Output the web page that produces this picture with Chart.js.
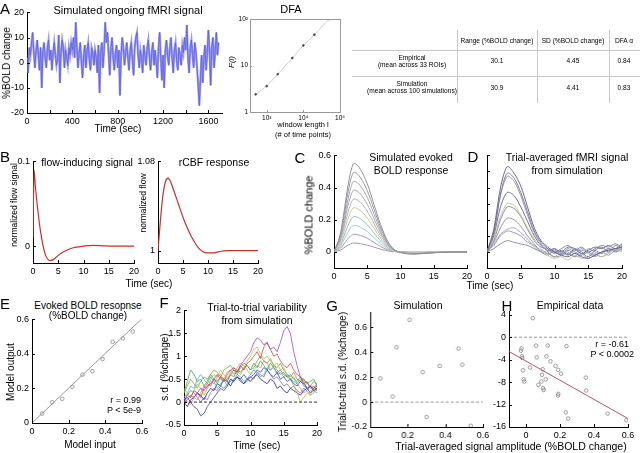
<!DOCTYPE html>
<html>
<head>
<meta charset="utf-8">
<title>Simulated BOLD figure</title>
<style>
body { margin: 0; background: #fff; font-family: 'Liberation Sans', Arial, sans-serif; }
#fig { position: relative; width: 640px; height: 453px; overflow: hidden; background: #fff; }
#fig canvas { position: absolute; }
.t { position: absolute; white-space: nowrap; color: #000; line-height: 1; z-index: 2; }
.ln { position: absolute; background: #c8c8c8; z-index: 1; }
</style>
</head>
<body>
<div id="fig"></div>
<script src="https://cdn.jsdelivr.net/npm/chart.js@4.4.1/dist/chart.umd.min.js"></script>
<script>

// ---- A: simulated ongoing signal, one sample every 10 s ----
const aSignal = [
  2,-4,6,3,8,12,4,-2,5,9,
  3,-3,6,-10,4,8,2,-2,6,9,
  1,5,-3,4,8,3,-1,2,11,-8,
  4,9,6,-2,5,2,-1,6,3,8,
  5,10,2,16,6,-2,4,8,0,-6,
  3,7,-2,5,8,1,-3,6,4,-1,
  5,2,-4,7,-12,4,8,-2,5,16,
  8,12,3,-5,6,10,2,-3,4,7,
  -2,5,-13,3,10,6,-1,4,8,2,
  -3,5,8,1,-5,6,10,12,3,-2,
  5,2,-4,7,3,-1,6,9,2,-3,
  4,8,-1,5,0,-6,6,12,2,-7,
  3,-10,5,9,3,-1,6,10,2,-4,
  5,8,1,-3,6,3,-1,7,4,10,
  5,15,2,-4,6,9,3,-2,8,4,
  -2,-9,-17,-6,3,-8,2,7,-3,4,
  13,5,-9,6,10,-2,4,12,3,8
];
const aTime = aSignal.map((v, i) => i * 10);

// DFA
const dfaWindow = [500, 1000, 2000, 5000, 10000, 20000, 50000];
const dfaF = [2.4, 3.6, 6.5, 14.5, 27, 46, 100];

// table
const tableHeader = ['Range (%BOLD change)', 'SD (%BOLD change)', 'DFA \u03b1'];
const tableRowNames = [['Empirical', '(mean across 33 ROIs)'], ['Simulation', '(mean across 100 simulations)']];
const tableRange = ['30.1', '30.9'];
const tableSD = ['4.45', '4.41'];
const tableDFA = ['0.84', '0.83'];

// ---- B ----
const flowTime = [0, 0.2, 0.5, 1, 1.5, 2, 2.5, 3, 3.5, 4, 5, 6, 7, 8, 9, 10, 11, 12, 14, 16, 18, 20];
const flowSignal = [0.01, 0.09, 0.068, 0.04, 0.017, 0.0, -0.011, -0.016, -0.017, -0.016, -0.011, -0.007, -0.004, -0.002, -0.001, 0.0, 0.0005, 0.0008, 0.0003, 0, 0, 0];
const cbfTime = [0, 0.5, 1, 1.5, 2, 2.5, 3, 4, 5, 6, 7, 8, 9, 10, 11, 12, 14, 16, 18, 20];
const cbfFlow = [1.0, 1.028, 1.05, 1.062, 1.065, 1.062, 1.056, 1.043, 1.03, 1.019, 1.01, 1.003, 0.999, 0.998, 0.998, 0.999, 1.0, 1.0, 1.0, 1.0];

// ---- C: simulated evoked responses ----
const cTime = [0, 1, 1.5, 2, 2.5, 3, 3.5, 4, 5, 6, 7, 8, 9, 10, 12, 14, 16, 18, 20];
const cCurves = [
  [0,0.121,0.248,0.385,0.495,0.55,0.539,0.512,0.424,0.297,0.171,0.072,0.017,-0.003,-0.014,-0.008,-0.003,0,0],
  [0,0.109,0.223,0.347,0.446,0.495,0.485,0.46,0.381,0.267,0.153,0.064,0.015,-0.002,-0.012,-0.007,-0.002,0,0],
  [0,0.097,0.198,0.308,0.396,0.44,0.431,0.409,0.339,0.238,0.136,0.057,0.013,-0.002,-0.011,-0.007,-0.002,0,0],
  [0,0.085,0.173,0.27,0.347,0.385,0.377,0.358,0.296,0.208,0.119,0.05,0.012,-0.002,-0.01,-0.006,-0.002,0,0],
  [0,0.073,0.149,0.231,0.297,0.33,0.323,0.307,0.254,0.178,0.102,0.043,0.01,-0.002,-0.008,-0.005,-0.002,0,0],
  [0,0.061,0.124,0.193,0.248,0.275,0.27,0.256,0.212,0.149,0.085,0.036,0.008,-0.001,-0.007,-0.004,-0.001,0,0],
  [0,0.048,0.099,0.154,0.198,0.22,0.216,0.205,0.169,0.119,0.068,0.029,0.007,-0.001,-0.006,-0.003,-0.001,0,0],
  [0,0.036,0.074,0.116,0.149,0.165,0.162,0.153,0.127,0.089,0.051,0.021,0.005,-0.001,-0.004,-0.002,-0.001,0,0],
  [0,0.024,0.05,0.077,0.099,0.11,0.108,0.102,0.085,0.059,0.034,0.014,0.003,0,-0.003,-0.002,-0.001,0,0],
  [0,0.012,0.025,0.039,0.05,0.055,0.054,0.051,0.042,0.03,0.017,0.007,0.002,0,-0.001,-0.001,0,0,0]
];
const cColors = ['#909090', '#a096ac', '#a4ac9e', '#aca4bc', '#b4b4b4', '#cccc98', '#a0b6cc', '#acc8c8', '#a0a0bc', '#a898a8'];

// ---- D: trial-averaged signal, 1 s grid ----
const dTime = [0,1,2,3,4,5,6,7,8,9,10,11,12,13,14,15,16,17,18,19,20];
const dCurves = [
  [0,0.14,0.40,0.53,0.49,0.41,0.28,0.15,0.07,0.03,0.0,-0.02,-0.03,-0.01,-0.03,-0.04,-0.02,0.0,0.01,0.02,0.03],
  [0,0.12,0.36,0.49,0.46,0.37,0.25,0.13,0.06,0.02,-0.01,0.01,-0.02,0.02,0.0,-0.03,0.01,0.03,0.0,0.04,0.02],
  [0,0.12,0.35,0.47,0.44,0.35,0.23,0.12,0.05,0.0,-0.03,-0.02,0.01,-0.01,0.02,0.0,-0.02,0.0,0.02,0.01,0.04],
  [0,0.10,0.28,0.37,0.35,0.28,0.19,0.10,0.04,0.01,0.02,0.0,0.03,0.02,-0.01,0.01,0.03,0.02,0.04,0.02,0.05],
  [0,0.08,0.22,0.30,0.29,0.23,0.15,0.08,0.02,-0.02,-0.04,-0.03,-0.05,-0.02,-0.04,-0.03,-0.01,-0.03,0.0,0.01,0.0],
  [0,0.07,0.20,0.28,0.27,0.22,0.14,0.07,0.03,0.02,0.0,0.02,0.04,0.01,0.03,0.0,0.02,0.04,0.03,0.05,0.03],
  [0,0.06,0.15,0.21,0.20,0.16,0.10,0.05,0.0,-0.02,0.01,-0.01,0.02,0.0,-0.02,0.02,0.0,-0.01,0.02,0.0,0.02],
  [0,0.05,0.11,0.14,0.15,0.12,0.08,0.03,0.0,-0.01,-0.03,0.0,-0.02,0.01,-0.01,-0.04,-0.02,-0.03,-0.01,0.02,0.01],
  [0,0.04,0.10,0.13,0.12,0.10,0.06,0.04,0.01,0.0,0.02,-0.01,0.0,-0.03,0.01,-0.01,-0.03,0.0,-0.02,0.01,0.03],
  [0,0.02,0.05,0.07,0.06,0.05,0.04,0.02,0.0,-0.01,0.0,-0.02,-0.01,-0.03,-0.02,0.0,0.01,-0.01,0.02,0.0,0.02]
];
const dColors = ['#6a6a90', '#8080a4', '#9494ac', '#70709a', '#c4c48c', '#8a8aac', '#9696b4', '#a8a8c4', '#9c9cbc', '#9090a8'];

// ---- E ----
const eInput = [0.055, 0.11, 0.165, 0.22, 0.275, 0.33, 0.385, 0.44, 0.495, 0.55];
const eOutput = [0.055, 0.12, 0.14, 0.21, 0.28, 0.30, 0.37, 0.47, 0.49, 0.53];
const eFitX = [0, 0.6];
const eFitY = [0, 0.605];

// ---- F: trial-to-trial s.d., 0.5 s grid ----
const fTime = [0,0.5,1,1.5,2,2.5,3,3.5,4,4.5,5,5.5,6,6.5,7,7.5,8,8.5,9,9.5,10,10.5,11,11.5,12,12.5,13,13.5,14,14.5,15,15.5,16,16.5,17,17.5,18,18.5,19,19.5,20];
const fCurves = [
  [0.05,0.1,0.0,-0.1,-0.15,-0.3,-0.25,-0.1,0.0,0.1,0.2,0.3,0.25,0.35,0.5,0.45,0.55,0.5,0.6,0.5,0.55,0.6,0.7,0.65,0.75,0.7,0.6,0.55,0.65,0.5,0.55,0.45,0.5,0.4,0.35,0.45,0.4,0.3,0.35,0.25,0.3],
  [0.2,0.45,0.7,0.6,0.45,0.5,0.35,0.45,0.6,0.5,0.4,0.55,0.45,0.5,0.6,0.55,0.7,0.65,0.75,0.8,0.7,0.85,0.75,0.9,0.8,0.7,0.85,0.75,0.65,0.7,0.6,0.55,0.6,0.5,0.45,0.55,0.5,0.4,0.45,0.5,0.35],
  [0.0,0.15,0.1,0.25,0.2,0.1,0.3,0.4,0.35,0.5,0.6,0.5,0.45,0.6,0.7,0.75,0.65,0.8,0.7,0.85,0.9,1.0,1.1,0.95,1.2,1.3,1.15,1.0,1.05,0.9,0.8,0.75,0.85,0.7,0.6,0.55,0.4,0.45,0.3,0.35,0.25],
  [0.1,0.2,0.35,0.3,0.5,0.6,0.5,0.4,0.55,0.45,0.3,0.4,0.5,0.35,0.45,0.5,0.6,0.55,0.45,0.5,0.6,0.7,0.65,0.55,0.6,0.75,0.7,0.8,0.7,0.6,0.65,0.55,0.5,0.45,0.4,0.5,0.35,0.3,0.2,0.25,0.2],
  [0.0,0.05,0.15,0.1,0.2,0.3,0.25,0.35,0.4,0.5,0.45,0.55,0.5,0.45,0.6,0.7,0.65,0.8,0.9,1.0,1.1,1.3,1.4,1.35,1.25,1.3,1.15,1.2,1.1,1.3,1.55,1.65,1.5,1.1,0.8,0.55,0.45,0.3,0.35,0.25,0.3],
  [0.3,0.2,0.1,0.25,0.4,0.3,0.15,0.3,0.5,0.6,0.55,0.7,0.6,0.5,0.65,0.75,0.7,0.6,0.75,0.9,1.0,1.15,1.2,1.05,0.95,1.0,0.9,0.8,0.85,0.7,0.75,0.6,0.5,0.35,0.2,0.0,0.1,0.2,0.15,0.3,0.25],
  [0.0,-0.1,0.05,0.1,0.2,0.15,0.05,0.2,0.3,0.25,0.4,0.35,0.5,0.45,0.35,0.5,0.55,0.45,0.4,0.5,0.45,0.55,0.6,0.5,0.45,0.4,0.5,0.45,0.3,0.35,0.25,0.2,0.3,0.25,0.2,0.15,0.25,0.3,0.2,0.3,0.35],
  [0.2,0.35,0.5,0.4,0.3,0.45,0.55,0.5,0.6,0.7,0.65,0.55,0.7,0.75,0.8,0.7,0.6,0.75,0.85,0.8,0.7,0.75,0.9,1.0,0.9,0.85,0.95,0.8,0.75,0.85,0.7,0.6,0.55,0.65,0.5,0.45,0.5,0.4,0.35,0.45,0.4],
  [0.1,0.0,-0.05,0.1,0.05,0.2,0.35,0.3,0.45,0.4,0.55,0.6,0.5,0.65,0.7,0.6,0.75,0.85,0.8,0.7,0.6,0.7,0.8,0.75,0.9,0.85,0.7,0.75,0.6,0.65,0.55,0.6,0.5,0.55,0.4,0.3,0.2,0.25,0.15,0.2,0.3],
  [0.05,0.15,0.25,0.2,0.1,0.0,0.1,0.05,0.2,0.3,0.25,0.35,0.3,0.4,0.5,0.45,0.55,0.5,0.4,0.45,0.55,0.5,0.65,0.6,0.55,0.7,0.6,0.5,0.55,0.45,0.35,0.4,0.3,0.35,0.25,0.2,0.3,0.25,0.35,0.3,0.4]
];
const fColors = ['#3a48c0', '#4aa84a', '#d04a4a', '#48b4c4', '#a848b4', '#c4b448', '#2a2a88', '#84a438', '#e08888', '#8474a4'];

// ---- G ----
const gAmplitude = [0.055, 0.12, 0.14, 0.21, 0.28, 0.30, 0.37, 0.47, 0.49, 0.535];
const gSD = [0.19, 0.045, 0.44, 0.66, 0.24, -0.12, 0.29, 0.43, 0.30, -0.19];

// ---- H ----
const hAmplitude = [0.04, -0.026, -0.03, -0.024, -0.022, -0.018, -0.014, -0.01, 0.024, 0.059, 0.063, 0.073, 0.09, 0.094, 0.098, 0.104, 0.10,
  0.116, 0.12, 0.128, 0.144, 0.173, 0.189, 0.19, 0.188, 0.206, 0.234, 0.238, 0.248, 0.352, 0.354, 0.48, 0.59];
const hSD = [3.4, -2.0, -2.4, -3.4, -3.7, -5.9, -7.5, -7.9, -5.4, -1.5, -3.6, -8.5, -7.9, -6.7, -5.7, -9.4, -9.1,
  -7.5, -3.4, -1.5, -4.3, -5.1, -5.8, -10.1, -10.4, -6.5, -13.4, -1.6, -14.5, -7.2, -9.5, -13.6, -14.8];
const hFitX = [-0.1, 0.6];
const hFitY = [-2.55, -14.5];

// ---------------------------------------------------------------

const fig = document.getElementById('fig');
Chart.defaults.font.family = "'Liberation Sans', Arial, sans-serif";
Chart.defaults.font.size = 9;
Chart.defaults.color = '#000';
Chart.defaults.animation = false;
Chart.defaults.plugins.legend.display = false;
Chart.defaults.plugins.tooltip.enabled = false;
Chart.defaults.elements.point.radius = 0;
Chart.defaults.elements.line.borderWidth = 1;

const pts = (xs, ys) => xs.map((x, i) => ({ x: x, y: ys[i] }));

// matlab style ticks pointing into the axes, plus optional full frame
const inTicks = {
  id: 'inTicks',
  afterDraw(chart) {
    const ctx = chart.ctx, a = chart.chartArea;
    ctx.save();
    if (chart.options.frame) {
      ctx.strokeStyle = chart.options.frame;
      ctx.lineWidth = 1;
      ctx.strokeRect(Math.round(a.left) + 0.5, Math.round(a.top) + 0.5, Math.round(a.right - a.left), Math.round(a.bottom - a.top));
    }
    for (const s of Object.values(chart.scales)) {
      const len = s.options.tickIn;
      if (!len) continue;
      ctx.strokeStyle = s.options.border.color;
      ctx.lineWidth = 1;
      s.ticks.forEach(t => {
        const p = Math.round(s.getPixelForValue(t.value)) + 0.5;
        ctx.beginPath();
        if (s.isHorizontal()) { ctx.moveTo(p, a.bottom); ctx.lineTo(p, a.bottom - len); }
        else { ctx.moveTo(a.left, p); ctx.lineTo(a.left + len, p); }
        ctx.stroke();
      });
    }
    ctx.restore();
  }
};

function scale(min, max, tickVals, tickLabels, o) {
  return Object.assign({
    type: 'linear', min: min, max: max,
    border: { display: true, color: '#000', width: 1 },
    grid: { display: false, drawTicks: false },
    afterBuildTicks: s => { s.ticks = tickVals.map(v => ({ value: v })); },
    ticks: { padding: 3, font: { size: 9 }, maxRotation: 0, autoSkip: false,
      callback: (v, i) => tickLabels ? tickLabels[i] : String(v) },
    tickIn: 3
  }, o || {});
}

function panel(box, datasets, xs, ys, opts) {
  opts = opts || {};
  const padL = opts.padL || 30, padR = 16, padT = 8, padB = 16;
  const w = box.r - box.l + padL + padR, h = box.b - box.t + padT + padB;
  const c = document.createElement('canvas');
  c.width = w; c.height = h;
  c.style.left = (box.l - padL) + 'px';
  c.style.top = (box.t - padT) + 'px';
  c.style.width = w + 'px'; c.style.height = h + 'px';
  fig.appendChild(c);
  xs.afterFit = s => { s.height = padB; };
  ys.afterFit = s => { s.width = padL; };
  return new Chart(c, {
    type: 'scatter',
    data: { datasets: datasets },
    options: {
      responsive: false,
      frame: opts.frame,
      layout: { padding: { top: padT, right: padR, left: 0, bottom: 0 } },
      scales: { x: xs, y: ys }
    },
    plugins: [inTicks]
  });
}

function txt(s, x, y, size, o) {
  o = o || {};
  const d = document.createElement('div');
  d.className = 't';
  d.textContent = s;
  d.style.left = x + 'px';
  d.style.top = y + 'px';
  d.style.fontSize = size + 'px';
  let tf = o.right ? 'translate(-100%,-50%)' : 'translate(-50%,-50%)';
  if (o.rot) tf += ' rotate(-90deg)';
  d.style.transform = tf;
  if (o.italic) d.style.fontStyle = 'italic';
  fig.appendChild(d);
}

function line(data, color, o) {
  return Object.assign({ type: 'line', data: data, borderColor: color, borderWidth: 1, pointRadius: 0, tension: 0, fill: false }, o || {});
}
function dots(data, color, r) {
  return { type: 'scatter', data: data, pointRadius: r || 1.8, pointBorderColor: color, pointBackgroundColor: 'rgba(0,0,0,0)', pointBorderWidth: 0.8, showLine: false };
}

// ---- A ----
const aPts = pts(aTime, aSignal);
panel({ l: 27, r: 222, t: 12, b: 113 },
  [line(aPts, 'rgba(120,120,235,0.75)', { borderWidth: 2.2 }),
   line(aPts, '#1818c0', { borderWidth: 0.8 })],
  scale(0, 1720, [0, 200, 400, 600, 800, 1000, 1200, 1400, 1600], ['0', '', '400', '', '800', '', '1200', '', '1600']),
  scale(-20, 20, [-20, -10, 0, 10, 20], ['-20', '-10', '0', '10', '20']));
txt('A', 5, 8, 15);
txt('Simulated ongoing fMRI signal', 128, 10, 11);
txt('%BOLD change', 7, 63, 10, { rot: true });
txt('Time (sec)', 118, 129, 10);

// DFA
const logOpts = { type: 'logarithmic', border: { display: true, color: '#999', width: 1 } };
const dfaX = scale(350, 100000, [1000, 10000, 100000], ['10\u00b3', '10\u2074', '10\u2075'], logOpts);
dfaX.ticks.font = { size: 6.5 }; dfaX.ticks.padding = 2; dfaX.tickIn = 2;
const dfaY = scale(1, 100, [1, 10, 100], ['1', '10', '10\u00b2'], Object.assign({}, logOpts, { border: { display: true, color: '#999', width: 1 } }));
dfaY.ticks.font = { size: 6.5 }; dfaY.ticks.padding = 2; dfaY.tickIn = 2;
panel({ l: 250, r: 340, t: 19, b: 112 },
  [Object.assign(line(pts(dfaWindow, dfaF), '#c4c4c4'), { pointRadius: 0.9, pointBackgroundColor: '#444', pointBorderColor: '#444', borderWidth: 0.8 })],
  dfaX, dfaY, { frame: '#999', padL: 22 });
txt('DFA', 291, 9, 11);
txt('F(l)', 232, 62, 8, { rot: true, italic: true });
txt('window length l', 303, 125, 7.5);
txt('(# of time points)', 303, 135, 7.5);

// table
const colX = [412, 497, 573, 624];
[[352, 49.5, 288, 1], [352, 75.5, 288, 1]].forEach(r => {
  const d = document.createElement('div'); d.className = 'ln';
  d.style.left = r[0] + 'px'; d.style.top = r[1] + 'px'; d.style.width = r[2] + 'px'; d.style.height = r[3] + 'px';
  fig.appendChild(d);
});
[457, 537, 609].forEach(x => {
  const d = document.createElement('div'); d.className = 'ln';
  d.style.left = x + 'px'; d.style.top = '30px'; d.style.width = '1px'; d.style.height = '73px';
  fig.appendChild(d);
});
tableHeader.forEach((h, i) => txt(h, colX[i + 1], 41, 6.6));
tableRowNames.forEach((r, i) => {
  const y = i === 0 ? 61 : 87.5;
  txt(r[0], colX[0], y - 3.5, 6.6);
  txt(r[1], colX[0], y + 3.5, 6.6);
  txt(tableRange[i], colX[1], y, 6.6);
  txt(tableSD[i], colX[2], y, 6.6);
  txt(tableDFA[i], colX[3], y, 6.6);
});

// ---- B ----
const timeTicks = [0, 5, 10, 15, 20];
const timeLabels = ['0', '5', '10', '15', '20'];
panel({ l: 33, r: 134, t: 161, b: 263 },
  [line(pts(flowTime, flowSignal), '#c8302c', { borderWidth: 1.2, cubicInterpolationMode: 'monotone' })],
  scale(0, 20, timeTicks, timeLabels),
  scale(-0.02, 0.1, [0, 0.1], ['0', '0.1']));
panel({ l: 158, r: 258, t: 161, b: 263 },
  [line(pts(cbfTime, cbfFlow), '#c8302c', { borderWidth: 1.2, cubicInterpolationMode: 'monotone' })],
  scale(0, 20, timeTicks, timeLabels),
  scale(0.989, 1.08, [1, 1.08], ['1', '1.08']));
txt('B', 5, 156, 15);
txt('flow-inducing signal', 87, 162, 10.5);
txt('rCBF response', 214, 162, 10.5);
txt('normalized flow signal', 14, 205, 8.5, { rot: true });
txt('normalized flow', 143, 203, 8.5, { rot: true });
txt('Time (sec)', 149, 284, 10);

// ---- C ----
panel({ l: 334, r: 467, t: 155, b: 268 },
  cCurves.map((c, i) => line(pts(cTime, c), cColors[i], { cubicInterpolationMode: 'monotone' })),
  scale(0, 20, timeTicks, timeLabels),
  scale(-0.1, 0.6, [0, 0.2, 0.4, 0.6], ['0', '0.2', '0.4', '0.6']));
txt('C', 300, 157, 15);
txt('Simulated evoked', 411, 157, 10.5);
txt('BOLD response', 411, 170, 10.5);
txt('%BOLD change', 309, 215, 11, { rot: true });

// ---- D ----
panel({ l: 487, r: 622, t: 155, b: 268 },
  dCurves.map((c, i) => line(pts(dTime, c), dColors[i], { tension: 0.3 })),
  scale(0, 20, timeTicks, timeLabels),
  scale(-0.1, 0.6, [0, 0.1, 0.2, 0.3, 0.4, 0.5, 0.6], ['', '', '', '', '', '', '']), { padL: 12 });
txt('D', 473, 156, 15);
txt('Trial-averaged fMRI signal', 567, 157, 10.5);
txt('from simulation', 567, 170, 10.5);
txt('Time (sec)', 490, 286, 10);

// ---- E ----
const ampTicks = [0, 0.2, 0.4, 0.6];
const ampLabels = ['0', '0.2', '0.4', '0.6'];
panel({ l: 32, r: 142, t: 319, b: 423 },
  [line(pts(eFitX, eFitY), '#999999'), dots(pts(eInput, eOutput), '#888888')],
  scale(0, 0.6, ampTicks, ampLabels),
  scale(0, 0.6, ampTicks, ampLabels));
txt('E', 5, 303, 15);
txt('Evoked BOLD resopnse', 88, 306, 10);
txt('(%BOLD change)', 88, 316, 10);
txt('Model output', 11, 372, 10, { rot: true });
txt('Model input', 90, 445, 10);
txt('r = 0.99', 141, 400, 9, { right: true });
txt('P < 5e-9', 141, 409.5, 9, { right: true });

// ---- F ----
panel({ l: 184, r: 317, t: 310, b: 425 },
  [line(pts([0, 20], [0, 0]), '#333333', { borderDash: [3, 2] })]
    .concat(fCurves.map((c, i) => line(pts(fTime, c), fColors[i], { borderWidth: 0.8 }))),
  scale(0, 20, timeTicks, timeLabels),
  scale(-0.5, 2, [-0.5, 0, 0.5, 1, 1.5, 2], ['-0.5', '0', '0.5', '1', '1.5', '2']));
txt('F', 164, 302, 15);
txt('Trial-to-trial variability', 257, 307, 10.5);
txt('from simulation', 257, 319.5, 10.5);
txt('s.d. (%change)', 165, 367, 10, { rot: true });
txt('Time (sec)', 257, 446, 10);

// ---- G ----
panel({ l: 370, r: 482.5, t: 311.7, b: 426.7 },
  [line(pts([0, 0.62], [0, 0]), '#999999', { borderDash: [3, 2] }), dots(pts(gAmplitude, gSD), '#888888')],
  scale(0, 0.6, ampTicks, ampLabels),
  scale(-0.2, 0.72, [-0.2, 0, 0.2, 0.4, 0.6], ['-0.2', '0', '0.2', '0.4', '0.6']));
txt('G', 332, 305, 15);
txt('Simulation', 418, 305, 10.5);
txt('Trial-to-trial s.d. (%change)', 343, 372, 10, { rot: true });

// ---- H ----
panel({ l: 509, r: 628, t: 310.5, b: 426.7 },
  [line(pts([-0.1, 0.6], [0, 0]), '#999999', { borderDash: [3, 2] }),
   line(pts(hFitX, hFitY), '#b8507a'),
   dots(pts(hAmplitude, hSD), '#888888')],
  scale(-0.1, 0.6, ampTicks, ampLabels),
  scale(-16, 4.6, [-16, -12, -8, -4, 0, 4], ['-16', '-12', '-8', '-4', '0', '4']));
txt('H', 507, 305, 15);
txt('Empirical data', 570, 305, 10.5);
txt('r = -0.61', 629, 343.5, 9, { right: true });
txt('P < 0.0002', 634, 353.5, 9, { right: true });
txt('Trial-averaged signal amplitude (%BOLD change)', 511, 446, 10.5);

</script>
</body>
</html>
